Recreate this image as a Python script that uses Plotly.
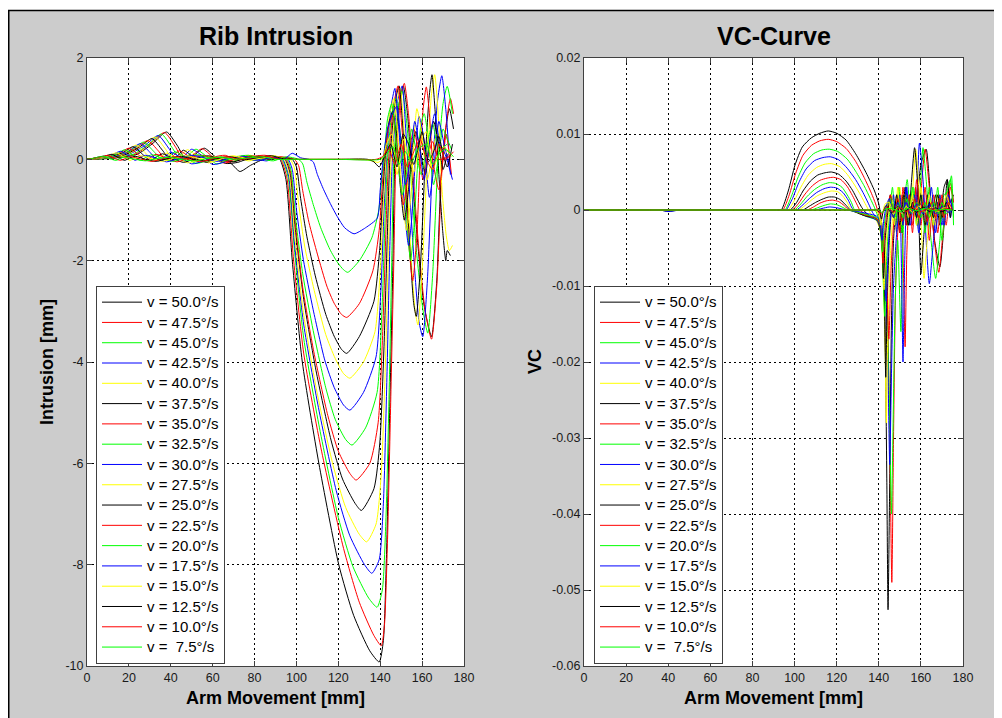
import plotly.graph_objects as go

# ---------------- data ----------------
speeds = [50.0, 47.5, 45.0, 42.5, 40.0, 37.5, 35.0, 32.5, 30.0, 27.5,
          25.0, 22.5, 20.0, 17.5, 15.0, 12.5, 10.0, 7.5]
line_colors = ["#000000", "#ff0000", "#00ff00", "#0000ff", "#ffff00"]

x_tickvals = [0, 20, 40, 60, 80, 100, 120, 140, 160, 180]
x_ticktext = ["0", "20", "40", "60", "80", "100", "120", "140", "160", "180"]
rib_tickvals = [-10, -8, -6, -4, -2, 0, 2]
rib_ticktext = ["-10", "-8", "-6", "-4", "-2", "0", "2"]
vc_tickvals = [-0.06, -0.05, -0.04, -0.03, -0.02, -0.01, 0, 0.01, 0.02]
vc_ticktext = ["-0.06", "-0.05", "-0.04", "-0.03", "-0.02", "-0.01", "0", "0.01", "0.02"]

# Rib intrusion curves (x = arm movement [mm], y = intrusion [mm])
rib_500 = [(0,0),(12,0.02),(24,0.1),(31,0.3),(38,0.54),(43,0.28),(47,0.02),(51,0.08),(56,0.22),(61,0.06),
           (66,-0.08),(72,-0.06),(78,0.03),(84,0.06),(89,0.02),(92,0),(95,-0.4),(98,-2),(102.8,-4),(110.7,-6),
           (120.2,-8),(127.3,-9),(135,-9.7),(139.5,-9.92),(141.5,-9.5),(143,-7.8),(144.5,-5),(146,-2.2),(147,0),
           (149,1.1),(151,1.45),(153,0.9),(155,-0.2),(158,-1.7),(161,-2.9),(164.5,-3.5),(167,-2.4),(169,-0.4),
           (171,0.5),(173,1.0),(175,0.6)]
rib_475 = [(0,0),(11,0.03),(23,0.1),(30,0.3),(37,0.53),(42,0.26),(46,0.0),(50,0.07),(55,0.21),(60,0.05),
           (65,-0.07),(71,-0.03),(77,0.05),(83,0.04),(88,0.07),(92.5,0),(95.5,-0.38),(98.5,-1.92),(103.5,-3.84),
           (112,-5.76),(122.5,-7.68),(130,-8.74),(137,-9.4),(140.5,-9.6),(142,-9.2),(143.5,-7.5),(145,-4.8),
           (146.5,-2.0),(147.5,0),(149.5,1.1),(151.5,1.5),(153.5,0.9),(155.5,-0.2),(158.5,-1.8),(161.5,-3.0),
           (164.5,-3.55),(167,-2.5),(169.5,-0.2),(171.5,0.7),(173.5,1.2),(175,0.9)]
rib_450 = [(0,0),(10,0.02),(22,0.1),(29,0.28),(35.5,0.5),(40.5,0.24),(44.5,0.0),(48,0.07),(52,0.2),(57,0.06),
           (62,-0.09),(68,0.0),(74,0.06),(80,-0.02),(87,0.05),(93,0),(96,-0.35),(99,-1.77),(103.5,-3.54),
           (111,-5.3),(120,-7.07),(127,-8.04),(134.5,-8.66),(138.5,-8.84),(141,-8.5),(142.8,-7),(144.3,-4.5),
           (145.6,-1.8),(146.5,0),(148.5,1.0),(150.5,1.35),(152.5,0.8),(154.5,-0.3),(157.5,-1.9),(160.5,-3.0),
           (162.7,-3.43),(165,-2.3),(167.5,-0.1),(170,1.1),(172,1.44),(174.5,0.9)]
rib_425 = [(0,0),(9,0.02),(20,0.1),(27.5,0.27),(34,0.47),(39,0.22),(43,-0.02),(46.5,0.07),(50,0.2),(55,0.07),
           (60,-0.1),(66,-0.05),(72,0.05),(79,0.02),(86,-0.03),(90,0.06),(93.5,0),(96.3,-0.33),(99,-1.63),
           (103.5,-3.27),(110.5,-4.9),(119,-6.54),(125.5,-7.43),(132.5,-8.0),(136,-8.17),(139.5,-7.9),
           (141.5,-6.8),(143.2,-4.3),(144.6,-1.7),(145.8,0),(148,1.1),(150.5,1.45),(152,0.7),(153.5,-0.3),
           (156.5,-2.2),(158.5,-3.2),(160.3,-3.5),(162.5,-2.4),(165,-0.1),(167.5,1.2),(169.4,1.65),(171.5,0.9),
           (173.5,-0.3)]
rib_400 = [(0,0),(9,0.02),(19,0.09),(26,0.26),(32.5,0.44),(37.5,0.2),(41.5,-0.03),(44.5,0.06),(48,0.19),(53,0.05),
           (58,-0.07),(64,0.02),(70,0.07),(77,-0.03),(84,0.03),(89,0.07),(94,0),(96.6,-0.3),(99.2,-1.51),
           (103.3,-3.02),(109.5,-4.53),(117.5,-6.04),(123.5,-6.87),(130,-7.4),(133.5,-7.55),(138,-7.2),
           (140.5,-6.2),(142.5,-4),(144,-1.6),(145.2,0),(147.5,1.05),(149.5,1.4),(151,0.8),(152.5,-0.2),
           (155,-2.1),(156.7,-3.0),(158,-3.27),(160,-2.2),(162.5,0),(164.5,1.3),(166,1.67),(167.8,0.8),
           (169.5,-0.6),(171.5,-1.5),(173,-1.8),(174.5,-1.7)]
rib_375 = [(0,0),(8,0.02),(18,0.09),(25,0.24),(31,0.41),(36,0.18),(40,-0.02),(43,0.06),(46,0.18),(51,0.04),
           (57,-0.06),(63,0.03),(68,-0.05),(73,-0.24),(78,-0.12),(83,-0.02),(89,0.05),(94.5,0),(97,-0.28),
           (99.5,-1.39),(103.5,-2.77),(109.3,-4.16),(116.5,-5.54),(122,-6.31),(128,-6.79),(131,-6.93),
           (137,-6.5),(139.8,-5.6),(141.8,-3.7),(143.4,-1.5),(144.6,0),(147,1.1),(149,1.45),(150.5,0.8),
           (152,-0.2),(154.5,-2.0),(156,-2.85),(157.2,-3.1),(159.2,-2.1),(161.5,0),(163.3,1.2),(164.7,1.67),
           (166.3,0.9),(168,-0.3),(169.8,-1.4),(171.3,-2.0),(172,-1.8),(173.5,-1.9)]
rib_350 = [(0,0),(7,0.02),(16,0.08),(23,0.21),(29,0.37),(34,0.17),(38,-0.02),(41,0.06),(44,0.17),(49,0.05),
           (54,-0.06),(60,0.04),(66,0.08),(72,-0.02),(78,0.05),(85,0.08),(90,0.02),(95,0),(97.2,-0.25),
           (99.5,-1.27),(103,-2.53),(108.3,-3.8),(115,-5.06),(120,-5.76),(125.5,-6.2),(128.5,-6.33),(135,-6.0),
           (139,-5.2),(141.2,-3.4),(142.8,-1.3),(144,0),(146.5,1.1),(148.5,1.45),(150,0.8),(151.5,0),
           (153.5,-1.6),(155.5,-2.4),(157.5,-1.5),(159,0),(160.5,1.0),(162,1.43),(163.5,0.9),(165,0),
           (168,-0.6),(170,0),(171.5,0.5),(174,-0.3)]
rib_325 = [(0,0),(7,0.02),(15,0.08),(21.5,0.19),(27,0.34),(32,0.15),(36,-0.02),(39,0.05),(42,0.15),(47,0.04),
           (52,-0.08),(58,-0.02),(64,0.05),(70,-0.04),(76,0.05),(82,0.0),(89,0.06),(95.5,0),(97.5,-0.23),
           (99.5,-1.13),(103,-2.26),(108,-3.38),(114,-4.51),(118.5,-5.13),(123.5,-5.53),(126.5,-5.64),
           (133,-5.3),(138.5,-4.6),(140.8,-3.0),(142.3,-1.2),(143.5,0),(145.5,0.9),(147.5,1.2),(149,0.7),
           (151,0),(153,-1.4),(154.5,-2.0),(156,-1.4),(158,0),(159.5,0.7),(161,0.9),(163,0.4),(165.5,-0.5),
           (168,0.1),(170,0.6),(172,0.4),(174,0.2)]
rib_300 = [(0,0),(6,0.02),(14,0.07),(20,0.17),(25.5,0.31),(30,0.14),(34,-0.03),(37,0.05),(40,0.14),(45,0.03),
           (50,-0.09),(56,-0.03),(62,0.04),(68,0.0),(74,0.06),(80,-0.02),(86,0.05),(91,0.03),(96,0),(98,-0.2),
           (100,-0.99),(103.3,-1.98),(108,-2.97),(113.5,-3.96),(118,-4.5),(122.5,-4.85),(125.5,-4.95),
           (132,-4.6),(138,-3.9),(140.3,-2.6),(141.8,-1.0),(143,0),(145,1.0),(147,1.4),(148.5,0.8),
           (150.5,-0.3),(152,-1.2),(153.5,-1.7),(155,-1.2),(156.8,0),(158.5,0.85),(160.5,0.5),(163.5,-0.75),
           (165.5,-0.2),(168,0.75),(170.5,0.3),(173,-0.1)]
rib_275 = [(0,0),(6,0.02),(12,0.06),(18.5,0.15),(23.5,0.28),(28,0.12),(32,-0.02),(35,0.04),(38,0.12),(43,0.03),
           (48,-0.07),(54,0.0),(60,0.06),(66,-0.02),(72,0.04),(78,0.08),(84,0.0),(90,0.05),(97,0),(99,-0.17),
           (101,-0.86),(104,-1.73),(108.5,-2.59),(114,-3.46),(118.5,-3.93),(122.5,-4.23),(125.5,-4.32),
           (132,-4.0),(137.5,-3.4),(140,-2.2),(141.5,-0.9),(142.7,0),(144.5,0.9),(146.5,1.2),(148,0.7),
           (150,-0.4),(152.5,-1.4),(154.5,-0.8),(156,0.3),(157.5,1.0),(159.5,0.6),(162.5,-0.4),(164.5,0),
           (167,0.5),(170,0.1),(173,0.2)]
rib_250 = [(0,0),(5,0.03),(11,0.06),(17,0.13),(22,0.25),(26.5,0.1),(30,-0.02),(33,0.04),(36,0.11),(41,0.02),
           (46,-0.06),(52,0.02),(58,0.07),(64,0.0),(70,-0.05),(76,0.03),(82,0.06),(88,0.0),(93,0.04),(98,0),
           (100,-0.15),(102,-0.77),(105,-1.53),(109,-2.3),(114,-3.06),(118,-3.49),(121.5,-3.75),(124,-3.83),
           (130,-3.5),(137,-2.8),(139.7,-1.8),(141.2,-0.7),(142.3,0),(144,0.7),(146,0.95),(147.5,0.5),
           (149.5,-0.5),(151.5,-1.2),(153.5,-0.6),(155.5,0.3),(157,0.55),(159,0.2),(161.5,-0.3),(163.5,0.3),
           (165.5,0.75),(168,0.3),(170,-0.2),(172,0.1)]
rib_225 = [(0,0),(5,0.02),(10,0.06),(15.5,0.12),(20,0.22),(24.5,0.09),(28,-0.02),(30.5,0.04),(33,0.1),(38,0.02),
           (43,-0.05),(49,0.03),(55,0.08),(61,0.01),(67,-0.04),(73,0.03),(79,0.07),(85,0.0),(92,0.05),(99,0),
           (101,-0.12),(103,-0.62),(106,-1.25),(110,-1.87),(114.5,-2.5),(118,-2.84),(121.5,-3.06),(124,-3.12),
           (130,-2.85),(136.5,-2.2),(139.5,-1.4),(141,-0.5),(142,0),(144,0.65),(146,0.85),(147.5,0.4),
           (149.5,-0.4),(151,-0.9),(153,-0.4),(154.5,0.3),(156,0.6),(158,0.2),(160.5,-0.4),(162.5,0),
           (165,0.35),(168,0.0),(172.5,0.05)]
rib_200 = [(0,0),(4,0.02),(9,0.05),(14,0.1),(18,0.19),(22,0.08),(25.5,-0.02),(28,0.04),(31,0.09),(36,0.02),
           (41,-0.04),(47,0.04),(53,0.09),(59,0.02),(65,-0.03),(71,0.05),(77,0.08),(83,0.01),(89,-0.03),(95,0.05),
           (101,0),(103,-0.09),(105,-0.45),(108,-0.89),(111.5,-1.34),(116,-1.78),(119.5,-2.03),(122.5,-2.18),
           (124.5,-2.23),(130,-2.0),(136,-1.55),(139.3,-1.0),(140.8,-0.35),(141.8,0),(143.5,0.8),(145.5,1.1),
           (147,0.6),(148.5,0),(150.5,-0.7),(152.5,-0.3),(154,0.3),(155,0.6),(157,0.2),(159.5,-0.3),(162,0.2),
           (165,0.7),(168,0.2),(172,0.3)]
rib_175 = [(0,0),(4,0.02),(8,0.05),(12,0.09),(16,0.16),(20,0.07),(23,-0.02),(25.5,0.04),(28,0.08),(33,0.02),
           (38,-0.05),(44,0.02),(50,0.08),(56,0.03),(62,-0.04),(68,0.02),(75,0.06),(82,-0.02),(89,0.04),(94,0.0),
           (98,0.12),(102,0.03),(106,0),(108,-0.05),(110,-0.3),(113,-0.6),(116.5,-0.9),(119.5,-1.13),
           (123,-1.35),(127.5,-1.47),(133,-1.35),(138.6,-1.16),(140,-0.6),(141.4,0),(143.5,0.6),(146,0.92),
           (148,1.05),(149.5,0.5),(152,-0.5),(154,-0.1),(156.5,0.75),(158.5,0.3),(161,-0.4),(163,0.2),
           (166,0.9),(168.5,0.3),(171,0.1),(174.5,-0.4)]
rib_150 = [(0,0),(4,0.02),(8,0.05),(11,0.08),(14,0.13),(17.5,0.05),(20.5,-0.02),(23,0.03),(26,0.07),(31,0.01),
           (36,-0.04),(42,0.03),(48,0.07),(54,0.0),(60,-0.04),(66,0.03),(72,0.06),(78,-0.01),(84,0.03),(90,0.06),
           (95,0),(105,0),(120,0),(132,0),(136,-0.03),(139,-0.06),(141,0),(143,0.3),(145.5,0.5),(148,-0.3),
           (151,0.4),(154,0.0),(156,-0.25),(159,0.3),(162,0.55),(165,-0.2),(168,0.1),(170.5,0.25),(174,0.05)]
rib_125 = [(0,0),(3,0.02),(6,0.05),(9,0.07),(12,0.1),(15,0.03),(18,-0.02),(20.5,0.03),(23,0.06),(28,0.0),
           (33,-0.04),(39,0.02),(45,0.06),(51,0.0),(57,-0.03),(63,0.03),(69,0.05),(75,-0.01),(81,0.03),(88,0.07),
           (94,0.01),(100,0),(120,0),(134,0),(137,-0.05),(139.5,-0.15),(142,0.05),(145,0.3),(148,-0.15),
           (151,0.5),(153.5,0.3),(156,-0.1),(158,0.2),(160,0.55),(163,-0.05),(166,0.2),(168,0.45),(170,0.1),
           (172,-0.15),(174.5,0.3)]
rib_100 = [(0,0),(3,0.02),(6,0.04),(8,0.06),(10,0.08),(13,0.02),(16,-0.02),(18.5,0.02),(20.5,0.05),(26,0.0),
           (31,-0.04),(37,0.02),(43,0.05),(49,-0.01),(55,-0.04),(61,0.02),(67,0.05),(73,0.0),(79,0.03),(86,0.06),
           (92,0.0),(100,0),(120,0),(138,0),(141,0.05),(144,0.2),(147,-0.1),(150,0.3),(153,-0.15),(156,0.15),
           (159,0.4),(162,0.0),(165,-0.2),(168,0.3),(171,0.0),(175,0.15)]
rib_075 = [(0,0),(2,0.01),(4,0.03),(6,0.05),(8,0.06),(11,0.01),(14,-0.02),(16,0.02),(17.5,0.04),(23,0.0),
           (28,-0.03),(34,0.02),(40,0.04),(46,-0.01),(52,-0.03),(58,0.02),(64,0.04),(70,0.0),(77,0.03),(84,0.05),
           (90,0.0),(100,0),(120,0),(140,0),(143,0.1),(146,0.25),(149,-0.1),(152,0.15),(155,-0.05),(158,0.2),
           (162,0.3),(165,-0.1),(168,0.1),(171,0.2),(175,0.05)]

# VC curves
vc_500 = [(0,0),(36,0),(40,-0.0002),(45,0),(92,0),(93.7,0),(97,0.0025),(100.2,0.0059),(103.7,0.0083),(108,0.0095),
          (112,0.0101),(116,0.0104),(120,0.0101),(124.5,0.0092),(129,0.0074),(134,0.0049),(138,0.0025),
          (140,0.0008),(141.5,-0.002),(142.8,-0.012),(143.8,-0.035),(144.4,-0.0526),(145.1,-0.038),(146,-0.015),
          (147,-0.004),(148.5,0.001),(150,-0.003),(151.5,0.002),(153,-0.002),(155,0.002),(157.5,0.0005),
          (160,0.006),(162.5,0.008),(164.5,0.002),(166.5,-0.004),(169,-0.0075),(171,-0.002),(172.5,0.004),
          (174,0.001),(175.5,0.002)]
vc_475 = [(0,0),(93,0),(94.5,0),(97.5,0.002),(100.5,0.0048),(104,0.0072),(108,0.0085),(112,0.0091),(116,0.0093),
          (120,0.009),(124.5,0.0081),(129,0.0064),(133,0.0043),(136.5,0.0022),(138.5,0.0008),(140,-0.0006),
          (142,-0.004),(144,-0.012),(145.3,-0.032),(146.2,-0.049),(147,-0.03),(148,-0.01),(149,-0.003),
          (150.5,0.002),(151.7,-0.008),(152.5,-0.018),(153.3,-0.006),(154.5,0.002),(156,-0.002),(157.5,0.003),
          (159,-0.001),(160.5,0.004),(162,0.008),(164,0.003),(166,-0.003),(168.5,-0.0082),(170.5,-0.003),
          (172.5,0.002),(174,0.0035),(175.5,0.001)]
vc_450 = [(0,0),(94,0),(95.5,0),(98.5,0.0018),(101.5,0.0042),(105,0.0062),(109,0.0074),(113,0.0079),(116.5,0.008),
          (120.5,0.0077),(125,0.0067),(129,0.0051),(133,0.0032),(136,0.0015),(138,0.0003),(140,-0.0012),
          (141.5,-0.004),(143.5,-0.01),(145,-0.025),(146,-0.04),(146.8,-0.028),(147.8,-0.012),(149,-0.004),
          (150.5,-0.016),(151.5,-0.004),(152.5,0.002),(153.5,0.004),(155,0.0),(156.5,0.003),(158.5,-0.002),
          (161,0.0082),(162.5,0.004),(164.5,-0.003),(167,-0.009),(169,-0.004),(171,0.002),(173,0.0025),
          (174.5,0.0045),(175.5,-0.002)]
vc_425 = [(0,0),(36,0),(40,-0.0002),(46,0),(94.5,0),(96,0),(99,0.0015),(102,0.0036),(105.5,0.0054),(109.5,0.0065),
          (113.5,0.0069),(117,0.007),(121,0.0066),(125,0.0055),(129,0.004),(132.5,0.0023),(135,0.0009),
          (137,-0.0003),(139,-0.0012),(141,-0.003),(143,-0.008),(144.3,-0.02),(145.2,-0.0335),(146,-0.022),
          (147,-0.01),(148.5,-0.003),(150,0.001),(150.8,-0.008),(151.5,-0.02),(152.3,-0.007),(153.3,0.003),
          (154.5,-0.002),(156,0.002),(157.5,-0.001),(159.3,0.0088),(161,0.004),(162.5,-0.004),(164,-0.0097),
          (166,-0.004),(168,0.001),(170,-0.002),(172,0.002),(174,-0.001),(175,0.001)]
vc_400 = [(0,0),(95.5,0),(97,0),(100,0.0013),(103,0.003),(106.5,0.0046),(110.5,0.0056),(114,0.006),(117.5,0.0061),
          (121.5,0.0057),(125,0.0047),(128.5,0.0033),(131.5,0.0019),(134,0.0006),(136,-0.0004),(138.5,-0.0012),
          (140.5,-0.0025),(142,-0.008),(143,-0.018),(143.6,-0.028),(144.3,-0.016),(145.5,-0.006),(147,0.0),
          (148.5,-0.003),(150,0.003),(151.5,-0.002),(153,0.002),(155,-0.001),(157.5,0.008),(159,0.003),
          (160.5,-0.004),(161.5,-0.009),(163,-0.004),(165,0.001),(167,-0.002),(169,0.002),(171,-0.001),
          (173,0.001),(175,0.0)]
vc_375 = [(0,0),(96.5,0),(98,0),(101,0.001),(104,0.0025),(107.5,0.0038),(111,0.0046),(114.5,0.0049),(117.5,0.005),
          (121,0.0047),(124.5,0.0038),(127.5,0.0026),(130,0.0013),(132,0.0003),(134,-0.0004),(137,-0.001),
          (139.5,-0.0015),(141,-0.003),(142.5,-0.01),(143.3,-0.022),(144,-0.012),(145,-0.004),(146.5,0.001),
          (148,-0.002),(149.5,0.002),(151,-0.003),(152.5,0.003),(154,-0.001),(157,0.0082),(158.5,0.003),
          (160,-0.0084),(161.5,-0.003),(163,0.002),(165,-0.001),(167,0.002),(169,-0.002),(171,0.003),
          (172.5,0.004),(174,-0.001),(175,0.002)]
vc_350 = [(0,0),(97.5,0),(99,0),(102,0.0009),(105,0.0021),(108.5,0.0032),(112,0.0039),(115.5,0.0042),(118.5,0.0043),
          (122,0.004),(125,0.0031),(127.5,0.0019),(129.5,0.0008),(131,0),(134,-0.0006),(137,-0.001),
          (139.5,-0.0014),(141.5,-0.003),(143.5,-0.008),(144.8,-0.017),(145.8,-0.008),(147,-0.002),
          (148.5,0.002),(150,-0.003),(151.5,0.003),(153,-0.002),(154.5,0.002),(156,-0.003),(158,0.004),
          (160,-0.002),(162,0.003),(164,-0.004),(166,0.002),(168,-0.003),(170,0.002),(172,-0.002),(174,0.003),
          (175.5,0.001)]
vc_325 = [(0,0),(98.5,0),(100,0),(103,0.0008),(106,0.0018),(109.5,0.0027),(113,0.0033),(116.5,0.0036),(119.5,0.0035),
          (122.5,0.003),(125,0.002),(127,0.001),(128.5,0.0),(131,-0.0005),(134.5,-0.0009),(138,-0.0012),
          (140,-0.0016),(141.5,-0.005),(142.8,-0.014),(143.8,-0.006),(145,-0.001),(146.5,0.003),(148,-0.002),
          (149.5,0.003),(151,-0.003),(152.5,0.002),(154,-0.002),(156,0.003),(158,-0.002),(160,0.002),
          (162,-0.003),(164,0.003),(166,-0.002),(168,0.003),(170,-0.004),(172,0.002),(174,0.004),(175.5,-0.001)]
vc_300 = [(0,0),(99.5,0),(101,0),(104,0.0007),(107,0.0015),(110.5,0.0023),(114,0.0028),(117,0.003),(120,0.0029),
          (123,0.0023),(125.5,0.0013),(127,0.0004),(128,0.0),(131,-0.0005),(135,-0.0009),(138.5,-0.0012),
          (140.5,-0.002),(142.3,-0.007),(143.5,-0.012),(144.5,-0.005),(145.5,-0.001),(147,0.002),
          (148.5,-0.003),(150,0.002),(151.5,-0.002),(153,0.003),(155,-0.002),(157,0.002),(159,-0.003),
          (161,0.002),(163,-0.002),(165,0.003),(167,-0.003),(169,0.002),(171,-0.002),(173,0.002),(175,0.0)]
vc_275 = [(0,0),(100.5,0),(102,0),(105,0.0006),(108,0.0013),(111,0.0019),(114.5,0.0023),(117.5,0.0025),(120.5,0.0024),
          (123,0.0018),(125,0.001),(126.5,0.0002),(127.5,0),(131,-0.0005),(135,-0.0008),(138.5,-0.0011),
          (140.5,-0.0018),(141.8,-0.005),(142.5,-0.0105),(143.3,-0.005),(144.5,-0.001),(146,0.002),
          (147.5,-0.002),(149,0.003),(150.5,-0.002),(152,0.002),(154,-0.001),(156,0.002),(158,-0.002),
          (160,0.003),(162,-0.002),(164,0.002),(166,-0.002),(168,0.002),(170,-0.001),(172,0.002),(174,0.0)]
vc_250 = [(0,0),(102.5,0),(104,0),(107,0.0005),(110,0.001),(113,0.0014),(116,0.0017),(119,0.0017),(121.5,0.0014),
          (123.5,0.0009),(125.5,0.0003),(126.5,0),(130,-0.0004),(134,-0.0008),(138,-0.001),(140,-0.0015),
          (141.5,-0.004),(142.2,-0.009),(143,-0.004),(144,-0.001),(145.5,0.002),(147,-0.001),(148.5,0.002),
          (150,-0.002),(152,0.002),(154,-0.002),(156,0.001),(158,-0.001),(160,0.002),(162,-0.002),(164,0.001),
          (166,-0.001),(168,0.002),(170,-0.001),(172,0.001),(174,0.0)]
vc_225 = [(0,0),(104.5,0),(106,0),(109,0.0004),(112,0.0009),(115,0.0012),(118,0.0013),(121,0.0011),(123.5,0.0006),
          (125,0.0002),(126,0),(130,-0.0003),(134,-0.0007),(138,-0.001),(140,-0.0014),(141.3,-0.003),
          (142,-0.007),(142.8,-0.003),(144,0.0),(145.5,0.002),(147,-0.001),(149,0.0015),(151,-0.0015),
          (153,0.001),(155,-0.001),(157,0.0015),(159,-0.001),(161,0.001),(163,-0.0015),(165,0.001),(167,-0.001),
          (169,0.0015),(171,-0.001),(173,0.001),(175,0.0)]
vc_200 = [(0,0),(106.5,0),(108,0),(111,0.0003),(114,0.0006),(117,0.0008),(120,0.0007),(122.5,0.0004),(124.5,0.0001),
          (125.5,0),(130,-0.0003),(134,-0.0006),(138,-0.0009),(140,-0.0012),(141,-0.0025),(141.8,-0.0055),
          (142.6,-0.002),(144,0.0005),(145.5,0.0015),(147.5,-0.001),(149.5,0.001),(151.5,-0.001),(153.5,0.0015),
          (155.5,-0.0005),(158,0.001),(160,-0.001),(162,0.001),(164,-0.001),(166,0.001),(168,-0.0005),
          (170,0.001),(172,-0.0005),(174,0.0)]
vc_175 = [(0,0),(108.5,0),(110,0),(113,0.0002),(116.5,0.0004),(120,0.0003),(123,0.0001),(124.5,0),(130,-0.0002),
          (135,-0.0005),(139,-0.0008),(140.5,-0.0015),(141.5,-0.004),(142.3,-0.0015),(143.5,0.0005),
          (145,0.0015),(147,-0.001),(149,0.001),(151,-0.0005),(153,0.001),(155,-0.0005),(158,0.0008),
          (161,-0.0005),(164,0.0008),(167,-0.0005),(170,0.0005),(173,-0.0003),(175,0.0)]
vc_150 = [(0,0),(136.5,0),(138,0),(140,-0.0005),(141,-0.002),(141.8,-0.0005),(143,0.0008),(145,0.001),(147,-0.0006),
          (149,0.0006),(151,-0.0005),(153,0.0005),(156,-0.0003),(159,0.0005),(162,-0.0003),(165,0.0004),
          (168,-0.0002),(171,0.0003),(174,0.0)]
vc_125 = [(0,0),(137.5,0),(139,0),(140.5,-0.0004),(141.3,-0.0012),(142,-0.0003),(143.5,0.0006),(146,-0.0004),
          (149,0.0005),(152,-0.0004),(155,0.0004),(158,-0.0003),(161,0.0004),(164,-0.0002),(167,0.0003),
          (170,-0.0002),(173,0.0002),(175,0.0)]
vc_100 = [(0,0),(138.5,0),(140,0),(141,-0.0006),(142,-0.0002),(144,0.0004),(147,-0.0003),(150,0.0003),(153,-0.0002),
          (156,0.0003),(160,-0.0002),(164,0.0002),(168,-0.0001),(172,0.0002),(175,0.0)]
vc_075 = [(0,0),(139,0),(140.5,0),(141.5,-0.0004),(143,0.0001),(146,0.0002),(150,-0.0002),(154,0.0002),(158,-0.0001),
          (162,0.0002),(166,-0.0001),(170,0.0001),(175,0.0)]

rib_series = [rib_500, rib_475, rib_450, rib_425, rib_400, rib_375, rib_350, rib_325, rib_300,
              rib_275, rib_250, rib_225, rib_200, rib_175, rib_150, rib_125, rib_100, rib_075]
vc_series = [vc_500, vc_475, vc_450, vc_425, vc_400, vc_375, vc_350, vc_325, vc_300,
             vc_275, vc_250, vc_225, vc_200, vc_175, vc_150, vc_125, vc_100, vc_075]

# ---------------- figure ----------------
# The page body has an 8 px margin: the figure starts at screen (8, 8).
OFF = 8
W, H = 1002 - OFF, 718 - OFF
ML, MR, MT, MB = 87 - OFF, 39, 58 - OFF, 52
PW, PH = W - ML - MR, H - MT - MB


def px_x(px):  # screen px -> paper x
    return (px - OFF - ML) / PW


def px_y(py):  # screen px -> paper y
    return 1 - (py - OFF - MT) / PH


FONT = "Liberation Sans, Arial, Helvetica, sans-serif"
fig = go.Figure()


def legend_label(s):
    txt = ("v = %4.1f°/s" % s).replace("  ", " \u00a0")
    return "<span style='font-size:15px'>" + txt + "</span>"


for i, s in enumerate(speeds):
    pts = rib_series[i]
    fig.add_trace(go.Scatter(
        x=[p[0] for p in pts], y=[p[1] for p in pts], mode="lines",
        line=dict(color=line_colors[i % 5], width=1, shape="spline", smoothing=0.6),
        name=legend_label(s), xaxis="x", yaxis="y", legend="legend"))
for i, s in enumerate(speeds):
    pts = vc_series[i]
    fig.add_trace(go.Scatter(
        x=[p[0] for p in pts], y=[p[1] for p in pts], mode="lines",
        line=dict(color=line_colors[i % 5], width=1, shape="spline", smoothing=0.6),
        name=legend_label(s), xaxis="x2", yaxis="y2", legend="legend2"))

axis_common = dict(
    showline=True, linecolor="#404040", linewidth=1, mirror="ticks",
    ticks="inside", ticklen=5, tickcolor="#404040",
    showgrid=True, gridcolor="#000000", gridwidth=1, griddash="2px,3px",
    zeroline=False, tickfont=dict(family=FONT, size=12.5, color="#1a1a1a"),
    fixedrange=True,
)

legend_common = dict(xanchor="left", yanchor="top", bgcolor="#ffffff", bordercolor="#404040",
                     borderwidth=1, font=dict(family=FONT, size=13.3, color="#000000"),
                     itemwidth=40, tracegroupgap=0)

fig.update_layout(
    width=W, height=H, autosize=False,
    margin=dict(l=ML, r=MR, t=MT, b=MB, pad=0),
    paper_bgcolor="#cccccc", plot_bgcolor="#ffffff",
    font=dict(family=FONT, color="#000000"),
    xaxis=dict(domain=[0, px_x(464)], range=[0, 180], tickvals=x_tickvals, ticktext=x_ticktext,
               anchor="y", **axis_common),
    yaxis=dict(domain=[0, 1], range=[-10, 2], tickvals=rib_tickvals, ticktext=rib_ticktext,
               anchor="x", **axis_common),
    xaxis2=dict(domain=[px_x(584), 1], range=[0, 180], tickvals=x_tickvals, ticktext=x_ticktext,
                anchor="y2", **axis_common),
    yaxis2=dict(domain=[0, 1], range=[-0.06, 0.02], tickvals=vc_tickvals, ticktext=vc_ticktext,
                anchor="x2", **axis_common),
    legend=dict(x=px_x(96), y=px_y(286), **legend_common),
    legend2=dict(x=px_x(594), y=px_y(286), **legend_common),
    showlegend=True,
)

annots = [
    dict(text="<b>Rib Intrusion</b>", x=px_x(275.5), y=px_y(36), font=dict(size=25)),
    dict(text="<b>VC-Curve</b>", x=px_x(773.5), y=px_y(36), font=dict(size=25)),
    dict(text="<b>Arm Movement [mm]</b>", x=px_x(275.5), y=px_y(698), font=dict(size=18)),
    dict(text="<b>Arm Movement [mm]</b>", x=px_x(773.5), y=px_y(698), font=dict(size=18)),
    dict(text="<b>Intrusion [mm]</b>", x=px_x(47), y=px_y(362), font=dict(size=18), textangle=-90),
    dict(text="<b>VC</b>", x=px_x(535), y=px_y(362), font=dict(size=18), textangle=-90),
]
for a in annots:
    a.update(xref="paper", yref="paper", xanchor="center", yanchor="middle", showarrow=False)
    a["font"].update(family=FONT, color="#000000")
    fig.add_annotation(**a)

# white strip above the frame line, and the black frame (top and left)
fig.add_shape(type="rect", xref="paper", yref="paper", x0=px_x(OFF), x1=px_x(1002), y0=px_y(10), y1=px_y(OFF),
              fillcolor="#ffffff", line=dict(width=0), layer="above")
fig.add_shape(type="line", xref="paper", yref="paper", x0=px_x(OFF), x1=px_x(1002), y0=px_y(10.5), y1=px_y(10.5),
              line=dict(color="#000000", width=1.5), layer="above")
fig.add_shape(type="line", xref="paper", yref="paper", x0=px_x(OFF + 0.75), x1=px_x(OFF + 0.75), y0=px_y(718),
              y1=px_y(10.5), line=dict(color="#000000", width=1.5), layer="above")

fig.write_html("out.html", config={"displayModeBar": False})
